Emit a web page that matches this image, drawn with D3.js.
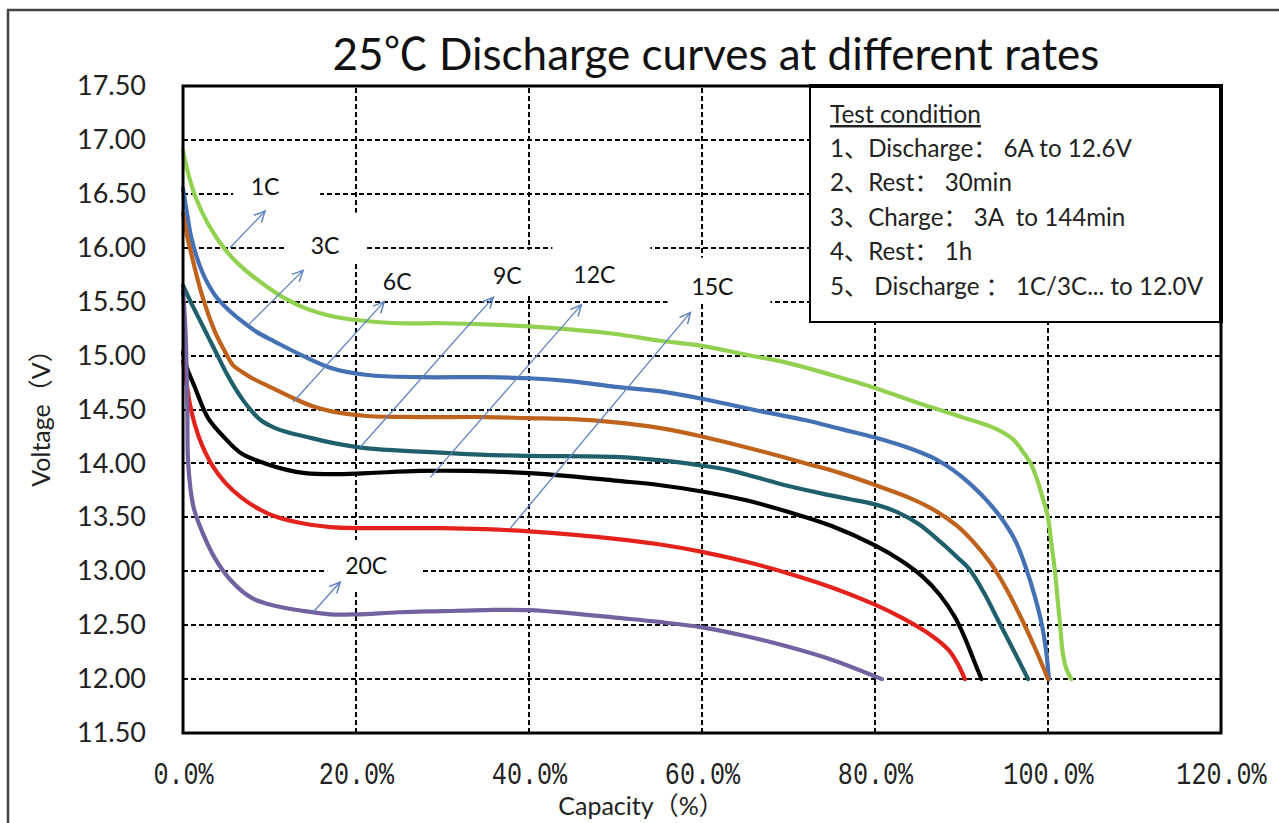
<!DOCTYPE html>
<html><head><meta charset="utf-8">
<script src="https://cdn.jsdelivr.net/npm/d3@7"></script>
<style>
html,body{margin:0;padding:0;background:#fff;}
svg text{white-space:pre;}
</style></head>
<body><svg id="c" width="1279" height="823"></svg>
<script>
// ---------- data ----------
const rates = ["1C","3C","6C","9C","12C","15C","20C"];
const cap1C  = [0,0.5,1.4,2.9,4.9,6.8,9.5,11.8,14.1,17,20,25,30,35,40,45,50,55,60,65,70,75,80,85,90,94,96,97,98,98.7,99.5,100,100.4,100.8,101.1,101.4,101.7,102.1,102.7];
const volt1C = [16.9,16.72,16.48,16.22,15.98,15.82,15.65,15.53,15.44,15.37,15.33,15.3,15.3,15.29,15.27,15.24,15.2,15.14,15.09,15.01,14.93,14.82,14.7,14.56,14.43,14.32,14.22,14.12,14.0,13.86,13.65,13.5,13.25,13.0,12.75,12.5,12.25,12.1,12.0];
const cap3C  = [0,0.5,1,2.2,3.7,5.3,6.8,8.5,10.6,13.8,17.3,21.3,27.4,35,40,45,50,55,60,67,72,76,80,84,87,89,91,93,94.8,96.3,97.5,98.5,99.3,99.8,100.1];
const volt3C = [16.55,16.3,16.08,15.78,15.56,15.42,15.32,15.22,15.13,15.0,14.88,14.82,14.8,14.8,14.79,14.76,14.71,14.67,14.6,14.48,14.4,14.32,14.24,14.14,14.04,13.94,13.81,13.65,13.47,13.27,13.02,12.76,12.5,12.25,12.0];
const cap6C  = [0,0.5,1,2.2,3.7,4.9,5.8,6.8,8,9.8,12.9,15,17.3,21.3,27.4,35,40,45,50,55,60,67,72,76,80,84,87,89.5,91.5,93.5,95.3,97,98.6,100];
const volt6C = [16.32,16.1,15.93,15.56,15.22,15.03,14.91,14.85,14.79,14.72,14.6,14.53,14.48,14.44,14.43,14.43,14.42,14.41,14.38,14.33,14.25,14.11,14.0,13.91,13.8,13.68,13.56,13.42,13.26,13.06,12.82,12.55,12.27,12.0];
const cap9C  = [0,1,2,3,4,5,6,7,8,9,10.6,12.5,14.1,17.3,21.3,27.4,35,40,50,55,60,63,66.8,70,73.9,77,80,82.5,85,87.6,89.5,90.9,92.6,94.2,96,97.7];
const volt9C = [15.65,15.48,15.32,15.16,15.0,14.84,14.7,14.58,14.48,14.4,14.33,14.28,14.25,14.19,14.14,14.11,14.08,14.07,14.06,14.03,13.98,13.94,13.86,13.79,13.72,13.67,13.62,13.55,13.44,13.27,13.13,13.02,12.8,12.55,12.27,12.0];
const cap12C  = [0,0.4,1.4,2.9,4.9,6.8,9.5,12,14.1,17.3,21.3,27.4,33,40,45,50,55,60,65,70,75,80,83,85.5,87.5,89.2,90.4,91.4,92.3];
const volt12C = [15.03,14.9,14.7,14.42,14.23,14.09,14.0,13.94,13.91,13.9,13.91,13.93,13.93,13.91,13.88,13.84,13.8,13.74,13.66,13.55,13.42,13.24,13.1,12.95,12.78,12.58,12.38,12.18,12.0];
const cap15C  = [0,0.4,0.8,1.4,2.2,3.4,4.9,6.8,8.7,10.6,14.1,17,20,25,30,35,40,45,50,55,60,65,70,75,80,83.3,86.6,88.5,89.5,90.4];
const volt15C = [14.95,14.75,14.55,14.35,14.17,13.98,13.82,13.68,13.58,13.51,13.44,13.41,13.4,13.4,13.4,13.39,13.37,13.34,13.3,13.25,13.18,13.09,12.98,12.85,12.69,12.56,12.4,12.27,12.15,12.0];
const cap20C  = [0,0.3,0.5,0.6,1.2,2.2,3.7,5.6,8,10.6,14.1,17,20,25,30,35,40,45,50,55,60,65,70,75,80.8];
const volt20C = [15.6,15.2,14.5,14.0,13.6,13.37,13.12,12.91,12.75,12.68,12.63,12.6,12.6,12.62,12.63,12.64,12.64,12.61,12.57,12.53,12.48,12.4,12.3,12.18,12.0];
const yTicks = [11.5,12,12.5,13,13.5,14,14.5,15,15.5,16,16.5,17,17.5];
const xTicks = [0,20,40,60,80,100,120];
const title = "25℃ Discharge curves at different rates";
const yTitle = "Voltage（V）";
const xTitle = "Capacity（%）";
const legendTitle = "Test condition";
const legendLines = ["1、Discharge： 6A to 12.6V","2、Rest： 30min","3、Charge： 3A  to 144min","4、Rest： 1h","5、 Discharge ： 1C/3C... to 12.0V"];
// rate annotations: arrow tail/head and label centre in data units
const arrowTail = [[5.44,16.0],[7.52,15.28],[12.73,14.57],[20.48,14.15],[28.58,13.87],[37.84,13.4],[15.04,12.62]];
const arrowHead = [[9.49,16.34],[13.89,15.79],[23.26,15.5],[35.87,15.54],[46.05,15.47],[58.67,15.4],[18.17,12.9]];
const labelPos  = [[9.49,16.56],[16.43,16.02],[24.76,15.68],[37.49,15.74],[47.56,15.75],[61.21,15.64],[21.18,13.05]];

// ---------- styles ----------
const colors = ["#92d050","#4470b4","#bf621c","#1f5f6c","#000000","#e4221c","#7461a0"];
const boxes = [[-32,55,-29,21],[-38,42,-33,17],[-25,25,-20,16],[-37,38,-26,19],[-42,56,-35,17],[-45,58,-29,17],[-39,56,-26,24]];
const FONT = "Lato, 'Noto Sans CJK SC', sans-serif";

const capArr = [cap1C,cap3C,cap6C,cap9C,cap12C,cap15C,cap20C];
const voltArr = [volt1C,volt3C,volt6C,volt9C,volt12C,volt15C,volt20C];
const series = rates.map((r,i)=>({rate:r,color:colors[i],pts:capArr[i].map((c,j)=>[c,voltArr[i][j]])}));

const svg = d3.select("#c");
const x = d3.scaleLinear().domain([0,120]).range([183,1221]);
const y = d3.scaleLinear().domain([11.5,17.5]).range([733,86]);

function fit(sel, target){
  const n = sel.node(); const fs = parseFloat(sel.attr("font-size"));
  const len = n.getComputedTextLength();
  sel.attr("font-size", fs*target/len);
}

// outer frame
svg.append("path").attr("d","M8,823V10H1279").attr("fill","none").attr("stroke","#444").attr("stroke-width",2.5);

// title
const t = svg.append("text").attr("x",716).attr("y",70).attr("text-anchor","middle")
  .attr("font-family",FONT).attr("font-size",38).attr("fill","#111").text(title);
fit(t,767);

// grid
const g = svg.append("g").attr("shape-rendering","crispEdges");
g.selectAll(".hg").data(yTicks.filter(v=>v>11.5&&v<17.5)).join("line")
  .attr("x1",x(0)).attr("x2",x(120)).attr("y1",d=>Math.round(y(d))).attr("y2",d=>Math.round(y(d)))
  .attr("stroke","#000").attr("stroke-width",1.6).attr("stroke-dasharray","5,3");
g.selectAll(".vg").data(xTicks.filter(v=>v>0&&v<120)).join("line")
  .attr("y1",y(11.5)).attr("y2",y(17.5)).attr("x1",d=>Math.round(x(d))).attr("x2",d=>Math.round(x(d)))
  .attr("stroke","#000").attr("stroke-width",1.6).attr("stroke-dasharray","5,3");

// label background boxes (break gridlines)
svg.selectAll(".lb").data(labelPos).join("rect")
  .attr("x",(d,i)=>x(d[0])+boxes[i][0]).attr("y",(d,i)=>y(d[1])+boxes[i][2])
  .attr("width",(d,i)=>boxes[i][1]-boxes[i][0]).attr("height",(d,i)=>boxes[i][3]-boxes[i][2])
  .attr("fill","#fff");

// curves
const line = d3.line().x(d=>x(d[0])).y(d=>y(d[1])).curve(d3.curveCatmullRom.alpha(0.5));
svg.selectAll(".s").data(series).join("path")
  .attr("d",d=>line(d.pts)).attr("fill","none").attr("stroke",d=>d.color)
  .attr("stroke-width",4.2).attr("stroke-linejoin","round").attr("stroke-linecap","round");

// arrows
const ac = "#5d82bf";
arrowTail.forEach((tl,i)=>{
  const hd = arrowHead[i];
  const x1=x(tl[0]),y1=y(tl[1]),x2=x(hd[0]),y2=y(hd[1]);
  svg.append("line").attr("x1",x1).attr("y1",y1).attr("x2",x2).attr("y2",y2)
    .attr("stroke",ac).attr("stroke-width",1.3);
  const a=Math.atan2(y2-y1,x2-x1), L=12, sp=0.45;
  const p1=[x2-L*Math.cos(a-sp),y2-L*Math.sin(a-sp)], p2=[x2-L*Math.cos(a+sp),y2-L*Math.sin(a+sp)];
  svg.append("path").attr("d",`M${p1}L${x2},${y2}L${p2}`).attr("fill","none")
    .attr("stroke",ac).attr("stroke-width",1.5);
});

// rate labels
svg.selectAll(".lt").data(labelPos).join("text")
  .attr("x",d=>x(d[0])).attr("y",d=>y(d[1])+8).attr("text-anchor","middle")
  .attr("font-family",FONT).attr("font-size",23).attr("fill","#111")
  .text((d,i)=>rates[i]);

// plot border
svg.append("rect").attr("x",x(0)).attr("y",y(17.5)).attr("width",x(120)-x(0)).attr("height",y(11.5)-y(17.5))
  .attr("fill","none").attr("stroke","#000").attr("stroke-width",3);

// axes
const ya = svg.append("g").attr("transform",`translate(${x(0)},0)`)
  .call(d3.axisLeft(y).tickValues(yTicks).tickFormat(d3.format(".2f")).tickSize(0).tickPadding(37));
ya.select(".domain").remove();
ya.selectAll("text").attr("font-family",FONT).attr("font-size",27).attr("fill","#222");

const xa = svg.append("g").attr("transform",`translate(0,${y(11.5)})`)
  .call(d3.axisBottom(x).tickValues(xTicks).tickFormat(d=>d.toFixed(1)+"%").tickSize(0));
xa.select(".domain").remove();
xa.selectAll("text").attr("font-family","'Liberation Mono', monospace").attr("font-size",31).attr("fill","#222")
  .attr("y",0).attr("dy",null).attr("x",0)
  .attr("transform","translate(0,51) scale(0.81,1)");

// axis titles
svg.append("text").attr("transform","translate(50,412) rotate(-90)").attr("text-anchor","middle")
  .attr("font-family",FONT).attr("font-size",25).attr("fill","#222").text(yTitle);
svg.append("text").attr("x",641).attr("y",815).attr("text-anchor","middle")
  .attr("font-family",FONT).attr("font-size",25).attr("fill","#222").text(xTitle);

// legend box
const lg = svg.append("g");
lg.append("rect").attr("x",810).attr("y",86).attr("width",411).attr("height",236)
  .attr("fill","#fff").attr("stroke","#000").attr("stroke-width",2);
lg.append("line").attr("x1",809).attr("x2",1223).attr("y1",86).attr("y2",86).attr("stroke","#000").attr("stroke-width",4);
lg.append("line").attr("x1",1221).attr("x2",1221).attr("y1",84).attr("y2",323).attr("stroke","#000").attr("stroke-width",4);
const lt = lg.append("text").attr("x",830).attr("y",123).attr("font-family",FONT).attr("font-size",20)
  .attr("fill","#222").attr("text-decoration","underline").text(legendTitle);
fit(lt,151);
const l1 = lg.append("text").attr("x",830).attr("y",157).attr("font-family",FONT).attr("font-size",20).attr("fill","#222").text(legendLines[0]);
fit(l1,302);
const lfs = l1.attr("font-size");
lg.selectAll(".ll").data(legendLines.slice(1)).join("text")
  .attr("x",830).attr("y",(d,i)=>191+i*34.5).attr("font-family",FONT).attr("font-size",lfs).attr("fill","#222").text(d=>d);
</script></body></html>
